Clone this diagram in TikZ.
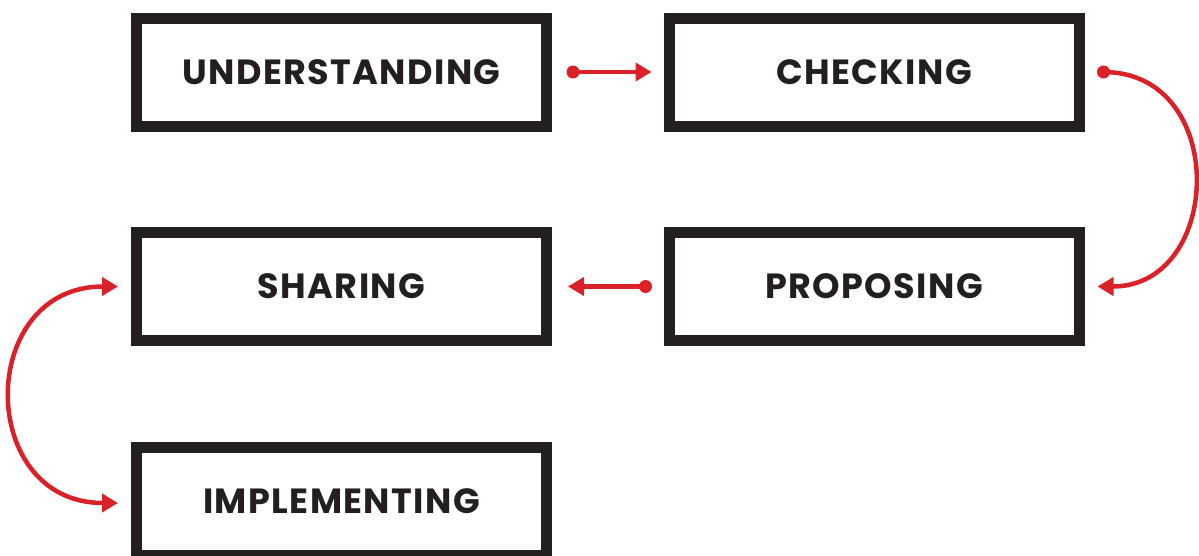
\documentclass[tikz,border=0pt]{standalone}
\usepackage{fontspec}
\setmainfont{Poppins}
\usetikzlibrary{arrows.meta}
\definecolor{boxblack}{HTML}{231F20}
\definecolor{arrred}{HTML}{DA2128}
\tikzset{
  stepbox/.style={draw=boxblack, line width=11pt, minimum width=410pt, minimum height=108pt,
    inner sep=0pt, outer sep=0pt, font=\fontsize{35}{38}\selectfont\bfseries\addfontfeature{LetterSpace=4}, text=boxblack},
  conn/.style={draw=arrred, line width=4.5pt, -{Triangle[length=16pt,width=18pt]}},
  conn2/.style={draw=arrred, line width=4.5pt, {Triangle[length=16pt,width=18pt]}-{Triangle[length=16pt,width=18pt]}},
  dotc/.style={fill=arrred, draw=none, circle, minimum size=13pt, inner sep=0pt},
}
\begin{document}
\begin{tikzpicture}[x=1pt,y=-1pt]
\useasboundingbox (0,0) rectangle (1199,555);
\clip (0,0) rectangle (1199,555);
\node[stepbox] (und) at (341.5,72) {UNDERSTANDING};
\node[stepbox] (chk) at (874,72) {CHECKING};
\node[stepbox] (prop) at (874,286.5) {PROPOSING};
\node[stepbox] (sha) at (341.5,286.5) {SHARING};
\node[stepbox] (imp) at (341.5,501.5) {IMPLEMENTING};
% dots
\node[dotc] (d1) at ([xshift=26.5pt]und.east) {};
\node[dotc] (d2) at ([xshift=24.5pt]chk.east) {};
\node[dotc] (d3) at ([xshift=-23.5pt]prop.west) {};
\coordinate (t1) at ([xshift=-17.5pt]chk.west);
\coordinate (t2) at ([xshift=18.5pt]prop.east);
\coordinate (t3) at ([xshift=21.5pt]sha.east);
\coordinate (t4) at ([xshift=-18.5pt]sha.west);
\coordinate (t5) at ([xshift=-18.5pt,yshift=-1.5pt]imp.west);
\draw[conn] (d1.center) -- (t1);
\draw[conn] (d3.center) -- (t3);
\draw[conn] (d2.center) .. controls +(126,0) and +(126,0) .. (t2);
\draw[conn2] (t4) .. controls +(-142,0) and +(-142,0) .. (t5);
\end{tikzpicture}
\end{document}
